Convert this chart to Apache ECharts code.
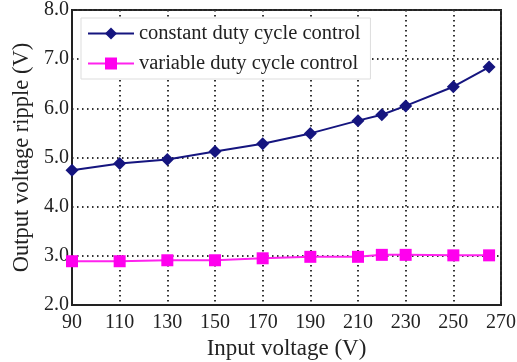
<!DOCTYPE html>
<html>
<head>
<meta charset="utf-8">
<script src="https://cdn.jsdelivr.net/npm/echarts@6/dist/echarts.min.js"></script>
<style>
  html, body { margin: 0; padding: 0; background: #fff; }
  #chart { width: 517px; height: 362px; }
</style>
</head>
<body>
<div id="chart"></div>
<script>
// Input voltage (V) at each measurement
const inputVoltage = [90, 110, 130, 150, 170, 190, 210, 220, 230, 250, 265];
// Output voltage ripple (V) for each control scheme
const constantDuty = [4.74, 4.88, 4.96, 5.12, 5.28, 5.49, 5.75, 5.87, 6.05, 6.44, 6.84];
const variableDuty = [2.89, 2.89, 2.91, 2.91, 2.95, 2.98, 2.98, 3.02, 3.02, 3.01, 3.01];
const seriesNames = ['constant duty cycle control', 'variable duty cycle control'];

const FONT = '"Liberation Serif", "Times New Roman", serif';
const pairs = (ys) => inputVoltage.map((x, i) => [x, ys[i]]);
const gridDots = { color: '#333', type: [1.5, 3.5], width: 2 };

const chart = echarts.init(document.getElementById('chart'));
chart.setOption({
  animation: false,
  backgroundColor: '#fff',
  grid: {
    left: 72, right: 16, top: 10, bottom: 57,
    containLabel: false, outerBoundsMode: 'none',
    show: true, borderColor: '#222', borderWidth: 2
  },
  legend: {
    orient: 'vertical',
    left: 81, top: 18,
    itemWidth: 46, itemHeight: 15, itemGap: 9,
    padding: [5, 10, 5, 6],
    backgroundColor: '#fff',
    borderColor: '#ddd', borderWidth: 1,
    textStyle: { fontFamily: FONT, fontSize: 20.5, color: '#222' },
    data: seriesNames
  },
  xAxis: {
    type: 'value', min: 90, max: 270, interval: 20,
    name: 'Input voltage (V)', nameLocation: 'middle', nameGap: 27,
    nameTextStyle: { fontFamily: FONT, fontSize: 23, color: '#222' },
    axisLine: { show: true, lineStyle: { color: '#222', width: 2 } },
    axisTick: { show: false },
    axisLabel: { fontFamily: FONT, fontSize: 20, color: '#222', margin: 8 },
    splitLine: { show: true, lineStyle: gridDots }
  },
  yAxis: {
    type: 'value', min: 2, max: 8, interval: 1,
    name: 'Output voltage ripple (V)', nameLocation: 'middle', nameGap: 38,
    nameTextStyle: { fontFamily: FONT, fontSize: 22.5, color: '#222' },
    axisLine: { show: true, lineStyle: { color: '#222', width: 2 } },
    axisTick: { show: false },
    axisLabel: { fontFamily: FONT, fontSize: 20, color: '#222', margin: 3,
                 formatter: (v) => v.toFixed(1) },
    splitLine: { show: true, lineStyle: gridDots }
  },
  series: [
    {
      name: seriesNames[0], type: 'line', data: pairs(constantDuty),
      symbol: 'diamond', symbolSize: 13,
      itemStyle: { color: '#15157f' },
      lineStyle: { color: '#15157f', width: 2 }
    },
    {
      name: seriesNames[1], type: 'line', data: pairs(variableDuty),
      symbol: 'rect', symbolSize: 12,
      itemStyle: { color: '#ff00ee' },
      lineStyle: { color: '#ff22ee', width: 2 }
    }
  ]
});
</script>
</body>
</html>
